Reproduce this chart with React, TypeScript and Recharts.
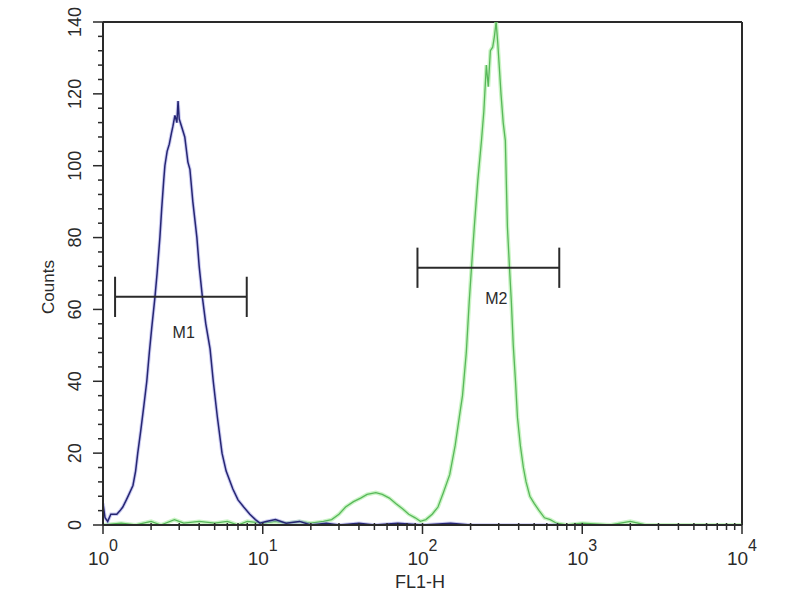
import { LineChart, Line, XAxis, YAxis, ReferenceLine, ReferenceDot } from 'recharts';

// FL1-H channel values (log scale) and counts
const blueFl = [
  1.0, 1.03, 1.07, 1.12, 1.18, 1.22, 1.28, 1.33, 1.4, 1.47, 1.54, 1.6, 1.65, 1.72, 1.8, 1.88, 1.95,
  2.02, 2.11, 2.18, 2.27, 2.33, 2.4, 2.44, 2.52, 2.6, 2.68, 2.74, 2.82, 2.9, 2.95, 3.0, 3.1, 3.25,
  3.4, 3.5, 3.65, 3.87, 4.0, 4.2, 4.4, 4.68, 4.9, 5.2, 5.56, 5.9, 6.5, 7.0, 7.6, 8.3, 9.0, 9.6,
  10.5, 12, 14, 17, 20, 25, 30, 40, 50, 70, 100, 150, 200, 300, 500, 700,
];
const blueCounts = [
  6, 2, 1, 3, 3, 3, 4, 5, 7, 9, 11, 15, 20, 26, 33, 40, 48, 55, 63, 70, 80, 88, 96, 100, 104, 106,
  109, 111, 114, 112, 118, 113, 111, 108, 101, 99, 90, 80, 72, 63, 56, 49, 40, 30, 20, 15, 10, 7,
  5, 3, 1.5, 0.5, 1, 1.5, 0.5, 1, 0, 0.5, 0, 0.5, 0, 0.5, 0, 0.5, 0, 0, 0, 0,
];

const greenFl = [
  1.0, 1.3, 1.6, 2.0, 2.3, 2.8, 3.2, 4, 5, 6, 7, 8, 10, 12, 14, 17, 20, 24, 27, 30, 33, 37, 41, 45,
  51, 56, 62, 68, 75, 82, 90, 97, 105, 115, 125, 135, 148, 160, 170, 178, 188, 196, 205, 211, 222,
  234, 242, 251, 258, 266, 275, 282, 289, 296, 302, 310, 320, 330, 340, 350, 360, 370, 382, 393,
  410, 428, 445, 470, 500, 537, 580, 630, 690, 800, 1000, 1500, 2000, 2500, 5000, 10000,
];
const greenCounts = [
  0, 0.5, 0, 1, 0, 1.5, 0.5, 1, 0.5, 1, 0, 1, 0.5, 1, 0.5, 1, 0.5, 1, 1.5, 3, 5, 6.5, 7.5, 8.5, 9,
  8.5, 7.5, 6, 4.5, 3, 2, 1, 1.5, 3, 5, 9, 14, 22, 30, 36, 48, 62, 75, 83, 96, 107, 115, 128, 122,
  132, 133, 136, 140, 134, 128, 120, 112, 107, 83, 72, 62, 50, 40, 30, 22, 16, 12, 8, 6, 4, 2, 1.5,
  0.5, 0, 0.5, 0, 1, 0, 0, 0,
];

// gates
const gateNames = ['M1', 'M2'];
const gateStart = [1.19, 93];
const gateEnd = [7.94, 718];
const gateLevel = [63.5, 71.6];
const gateLabelFl = [3.2, 290];
const gateLabelCount = [53.5, 63.2];

const decades = [1, 10, 100, 1000, 10000];
const xTicks = decades.flatMap((d, i) =>
  i < decades.length - 1 ? [d, 2, 3, 4, 5, 6, 7, 8, 9].map((m, j) => (j === 0 ? d : m * d)) : [d]
);
const yTicks = Array.from({ length: 36 }, (_, i) => i * 4);

const blueData = blueFl.map((fl, i) => ({ fl, count: blueCounts[i] }));
const greenData = greenFl.map((fl, i) => ({ fl, count: greenCounts[i] }));

const font = '"Liberation Sans", Arial, sans-serif';
const ink = '#2a2a2a';

const XTick = ({ x, y, payload }: any) => {
  const v = payload.value;
  const exp = Math.round(Math.log10(v));
  const major = Math.abs(Math.pow(10, exp) - v) < 1e-6;
  return (
    <g>
      <line x1={x} x2={x} y1={y - 2} y2={y + (major ? 9 : 5)} stroke={ink} strokeWidth={1.5} />
      {major && (
        <text x={x} y={y + 40} textAnchor="middle" fontFamily={font} fontSize={19} fill={ink}>
          <tspan>10</tspan>
          <tspan dy={-14} fontSize={16}>{exp}</tspan>
        </text>
      )}
    </g>
  );
};

const YTick = ({ x, y, payload }: any) => {
  const v = payload.value;
  const major = v % 20 === 0;
  return (
    <g>
      <line x1={x - (major ? 10 : 5)} x2={x} y1={y} y2={y} stroke={ink} strokeWidth={1.5} />
      {major && (
        <text
          x={75}
          y={y}
          transform={`rotate(-90, 75, ${y})`}
          textAnchor="middle"
          dominantBaseline="central"
          fontFamily={font}
          fontSize={18}
          fill={ink}
        >
          {v}
        </text>
      )}
    </g>
  );
};

export default function App() {
  return (
    <div style={{ width: 800, height: 600, background: '#fff' }}>
      <style>{'body{margin:0}'}</style>
      <LineChart width={800} height={600} margin={{ top: 22, right: 58, bottom: 0, left: 0 }}>
        <XAxis
          dataKey="fl"
          type="number"
          scale="log"
          domain={[1, 10000]}
          ticks={xTicks}
          interval={0}
          height={75}
          tickSize={0}
          tickMargin={0}
          tickLine={false}
          tick={XTick}
          axisLine={{ stroke: ink, strokeWidth: 2 }}
          allowDataOverflow
        />
        <YAxis
          type="number"
          domain={[0, 140]}
          ticks={yTicks}
          interval={0}
          width={103}
          tickSize={0}
          tickMargin={0}
          tickLine={false}
          tick={YTick}
          axisLine={{ stroke: ink, strokeWidth: 2 }}
          allowDataOverflow
        />
        <ReferenceLine y={140} stroke={ink} strokeWidth={2} />
        <ReferenceLine x={10000} stroke={ink} strokeWidth={2} />

        <Line data={greenData} dataKey="count" type="linear" dot={false} stroke="#a6ec9f" strokeWidth={4} strokeOpacity={0.6} isAnimationActive={false} />
        <Line data={greenData} dataKey="count" type="linear" dot={false} stroke="#58b85a" strokeWidth={1.3} isAnimationActive={false} />
        <Line data={blueData} dataKey="count" type="linear" dot={false} stroke="#9a9ae6" strokeWidth={3.5} strokeOpacity={0.5} isAnimationActive={false} />
        <Line data={blueData} dataKey="count" type="linear" dot={false} stroke="#262673" strokeWidth={1.5} isAnimationActive={false} />

        {gateNames.map((name, i) => (
          <ReferenceLine
            key={name + 'h'}
            segment={[{ x: gateStart[i], y: gateLevel[i] }, { x: gateEnd[i], y: gateLevel[i] }]}
            stroke={ink}
            strokeWidth={2}
          />
        ))}
        {gateNames.map((name, i) => (
          <ReferenceLine
            key={name + 'l'}
            segment={[{ x: gateStart[i], y: gateLevel[i] - 5.6 }, { x: gateStart[i], y: gateLevel[i] + 5.6 }]}
            stroke={ink}
            strokeWidth={2}
          />
        ))}
        {gateNames.map((name, i) => (
          <ReferenceLine
            key={name + 'r'}
            segment={[{ x: gateEnd[i], y: gateLevel[i] - 5.6 }, { x: gateEnd[i], y: gateLevel[i] + 5.6 }]}
            stroke={ink}
            strokeWidth={2}
          />
        ))}
        {gateNames.map((name, i) => (
          <ReferenceDot
            key={name}
            x={gateLabelFl[i]}
            y={gateLabelCount[i]}
            r={1}
            fill="none"
            stroke="none"
            label={{ value: name, position: 'center', fontFamily: font, fontSize: 16, fill: ink }}
          />
        ))}

        <text x={420} y={588} textAnchor="middle" fontFamily={font} fontSize={18} fill={ink}>
          FL1-H
        </text>
        <text
          x={48}
          y={287}
          transform="rotate(-90, 48, 287)"
          textAnchor="middle"
          dominantBaseline="central"
          fontFamily={font}
          fontSize={17}
          fill={ink}
        >
          Counts
        </text>
      </LineChart>
    </div>
  );
}
